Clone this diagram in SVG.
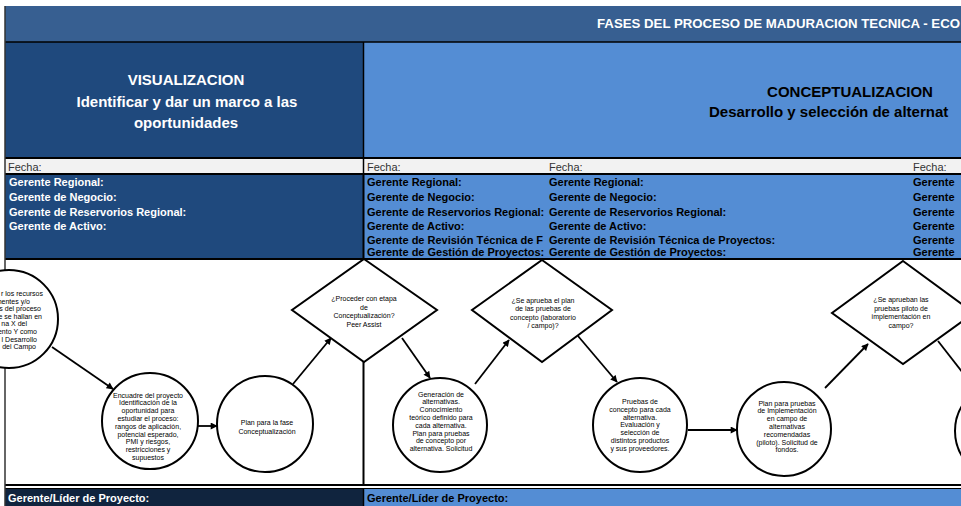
<svg xmlns="http://www.w3.org/2000/svg" width="961" height="506" viewBox="0 0 961 506">
<style>
.node circle, .node polygon { fill: #fff; stroke: #000; stroke-width: 2; }
.nt { font-family: "Liberation Sans", Arial, sans-serif; font-size: 7px; fill: #000; text-anchor: middle; }
.lbl { font-family: "Liberation Sans", Arial, sans-serif; font-size: 11px; font-weight: bold; }
.w { fill: #fff; }
.k { fill: #000; }
.fecha { font-family: "Liberation Sans", Arial, sans-serif; font-size: 11px; fill: #333; }
.grid { stroke: #000; fill: none; }
#connectors line { stroke: #000; stroke-width: 1.8; }
</style>
<defs>
<marker id="arr" viewBox="0 0 10 10" refX="9" refY="5" markerWidth="8" markerHeight="7" markerUnits="userSpaceOnUse" orient="auto">
<path d="M0,0 L10,5 L0,10 z" fill="#000"/>
</marker>
</defs>
<rect x="0" y="0" width="961" height="506" fill="#fff"/>
<g id="table">
<rect x="5" y="6" width="956" height="36" fill="#375f91"/>
<rect x="5" y="42" width="358" height="116" fill="#1f497d"/>
<rect x="363" y="42" width="598" height="116" fill="#548dd4"/>
<rect x="5" y="159" width="956" height="15" fill="#f2f2f2"/>
<rect x="5" y="174" width="358" height="85" fill="#1f497d"/>
<rect x="363" y="174" width="598" height="85" fill="#548dd4"/>
<rect x="5" y="489" width="358" height="17" fill="#10243e"/>
<rect x="363" y="489" width="598" height="17" fill="#548dd4"/>
<line class="grid" x1="5" y1="42" x2="961" y2="42" stroke-width="1.5"/>
<line class="grid" x1="5" y1="158" x2="961" y2="158" stroke-width="2"/>
<line class="grid" x1="5" y1="174" x2="961" y2="174" stroke-width="2"/>
<line class="grid" x1="5" y1="259" x2="961" y2="259" stroke-width="2"/>
<line class="grid" x1="5" y1="485" x2="961" y2="485" stroke-width="2"/>
<line class="grid" x1="5" y1="488.5" x2="961" y2="488.5" stroke-width="1"/>
<line class="grid" x1="363.5" y1="42" x2="363.5" y2="174" stroke-width="1.5"/>
<line class="grid" x1="363.5" y1="174" x2="363.5" y2="485" stroke-width="2"/>
<line class="grid" x1="363.5" y1="489" x2="363.5" y2="506" stroke-width="1.5"/>
<line x1="5" y1="6" x2="5" y2="506" stroke="#333" stroke-width="1.5"/>
<text x="597" y="28" font-family="'Liberation Sans', Arial, sans-serif" font-size="13" font-weight="bold" fill="#fff" textLength="363" lengthAdjust="spacingAndGlyphs">FASES DEL PROCESO DE MADURACION TECNICA - ECO</text>
<g font-family="'Liberation Sans', Arial, sans-serif" font-size="15" font-weight="bold" text-anchor="middle">
<text x="186" y="85" fill="#fff">VISUALIZACION</text>
<text x="187" y="107" fill="#fff">Identificar y dar un marco a las</text>
<text x="186" y="128" fill="#fff">oportunidades</text>
<text x="850" y="97" fill="#000">CONCEPTUALIZACION</text>
</g>
<text x="709" y="117" font-family="'Liberation Sans', Arial, sans-serif" font-size="15" font-weight="bold" fill="#000">Desarrollo y selección de alternat</text>
<text class="fecha" x="8" y="171">Fecha:</text>
<text class="fecha" x="367" y="171">Fecha:</text>
<text class="fecha" x="549" y="171">Fecha:</text>
<text class="fecha" x="913" y="171">Fecha:</text>
<g class="lbl w">
<text x="9" y="186">Gerente Regional:</text>
<text x="9" y="201">Gerente de Negocio:</text>
<text x="9" y="216">Gerente de Reservorios Regional:</text>
<text x="9" y="230">Gerente de Activo:</text>
</g>
<g class="lbl k">
<text x="367" y="186">Gerente Regional:</text>
<text x="367" y="201">Gerente de Negocio:</text>
<text x="367" y="216">Gerente de Reservorios Regional:</text>
<text x="367" y="230">Gerente de Activo:</text>
<text x="367" y="243.5">Gerente de Revisión Técnica de F</text>
<text x="367" y="256">Gerente de Gestión de Proyectos:</text>
<text x="549" y="186">Gerente Regional:</text>
<text x="549" y="201">Gerente de Negocio:</text>
<text x="549" y="216">Gerente de Reservorios Regional:</text>
<text x="549" y="230">Gerente de Activo:</text>
<text x="549" y="243.5">Gerente de Revisión Técnica de Proyectos:</text>
<text x="549" y="256">Gerente de Gestión de Proyectos:</text>
<text x="913" y="186">Gerente</text>
<text x="913" y="201">Gerente</text>
<text x="913" y="216">Gerente</text>
<text x="913" y="230">Gerente</text>
<text x="913" y="243.5">Gerente</text>
<text x="913" y="256">Gerente</text>
</g>
<text class="lbl w" x="8" y="502" font-size="11.5">Gerente/Líder de Proyecto:</text>
<text class="lbl k" x="367" y="502" font-size="11.5">Gerente/Líder de Proyecto:</text>
</g>
<g id="connectors">
<line x1="52" y1="347" x2="113" y2="389" marker-end="url(#arr)"/>
<line x1="198" y1="426" x2="217" y2="426" marker-end="url(#arr)"/>
<line x1="293" y1="384" x2="331" y2="338" marker-end="url(#arr)"/>
<line x1="402" y1="338" x2="430" y2="378" marker-end="url(#arr)"/>
<line x1="475" y1="384" x2="509" y2="340" marker-end="url(#arr)"/>
<line x1="578" y1="336" x2="617" y2="382" marker-end="url(#arr)"/>
<line x1="688" y1="430" x2="737" y2="430" marker-end="url(#arr)"/>
<line x1="825" y1="388" x2="868" y2="344" marker-end="url(#arr)"/>
<line x1="938" y1="341" x2="963" y2="373"/>
</g>
<g id="n-identificar" class="node">
<circle cx="9" cy="319" r="49"/>
<g class="nt" style="text-anchor:end">
<text x="43" y="296">r los recursos</text>
<text x="30" y="303.5">nentes y/o</text>
<text x="41" y="311">s del proceso</text>
<text x="42" y="318.5">e se hallan en</text>
<text x="27" y="326">na X del</text>
<text x="37" y="333.5">ento Y como</text>
<text x="37" y="341.5">l Desarrollo</text>
<text x="36" y="349">del Campo</text>
</g>
</g>
<g id="n-encuadre" class="node">
<circle cx="150" cy="421" r="48"/>
<g class="nt">
<text x="148" y="397.5">Encuadre del proyecto</text>
<text x="148" y="405.3">Identificación de la</text>
<text x="148" y="413.1">oportunidad para</text>
<text x="148" y="420.9">estudiar el proceso:</text>
<text x="148" y="428.7">rangos de aplicación,</text>
<text x="148" y="436.5">potencial esperado,</text>
<text x="148" y="444.3">PMI y riesgos,</text>
<text x="148" y="452.1">restricciones y</text>
<text x="148" y="459.9">supuestos</text>
</g>
</g>
<g id="n-plan-fase" class="node">
<circle cx="265" cy="424" r="48"/>
<g class="nt">
<text x="267" y="425">Plan para la fase</text>
<text x="267" y="433.5">Conceptualización</text>
</g>
</g>
<g id="d-proceder" class="node">
<polygon points="364,259 437,310 364,362 292,310"/>
<g class="nt">
<text x="364" y="301">¿Proceder con etapa</text>
<text x="364" y="309.5">de</text>
<text x="364" y="318">Conceptualización?</text>
<text x="364" y="326.5">Peer Assist</text>
</g>
</g>
<g id="n-generacion" class="node">
<circle cx="440" cy="425" r="47"/>
<g class="nt">
<text x="441" y="396.5">Generación de</text>
<text x="441" y="404.3">alternativas.</text>
<text x="441" y="412.1">Conocimiento</text>
<text x="441" y="419.9">teórico definido para</text>
<text x="441" y="427.7">cada alternativa.</text>
<text x="441" y="435.5">Plan para pruebas</text>
<text x="441" y="443.3">de concepto por</text>
<text x="441" y="451.1">alternativa. Solicitud</text>
</g>
</g>
<g id="d-aprueba-plan" class="node">
<polygon points="542,260 612,310 542,362 472,310"/>
<g class="nt">
<text x="543" y="302.5">¿Se aprueba el plan</text>
<text x="543" y="311">de las pruebas de</text>
<text x="543" y="319.5">concepto (laboratorio</text>
<text x="543" y="328">/ campo)?</text>
</g>
</g>
<g id="n-pruebas" class="node">
<circle cx="640" cy="425" r="47"/>
<g class="nt">
<text x="640" y="404">Pruebas de</text>
<text x="640" y="411.8">concepto para cada</text>
<text x="640" y="419.6">alternativa.</text>
<text x="640" y="427.4">Evaluación y</text>
<text x="640" y="435.2">selección de</text>
<text x="640" y="443">distintos productos</text>
<text x="640" y="450.8">y sus proveedores.</text>
</g>
</g>
<g id="n-plan-piloto" class="node">
<circle cx="784" cy="429" r="47"/>
<g class="nt">
<text x="787" y="405.5">Plan para pruebas</text>
<text x="787" y="413.3">de Implementación</text>
<text x="787" y="421.1">en campo de</text>
<text x="787" y="428.9">alternativas</text>
<text x="787" y="436.7">recomendadas</text>
<text x="787" y="444.5">(piloto). Solicitud de</text>
<text x="787" y="452.3">fondos.</text>
</g>
</g>
<g id="d-aprueban-piloto" class="node">
<polygon points="903,261 974,313 903,364 832,313"/>
<g class="nt">
<text x="901" y="302">¿Se aprueban las</text>
<text x="901" y="310.5">pruebas piloto de</text>
<text x="901" y="319">implementación en</text>
<text x="901" y="327.5">campo?</text>
</g>
</g>
<g id="n-next" class="node">
<circle cx="1003" cy="431" r="48"/>
</g>
</svg>
